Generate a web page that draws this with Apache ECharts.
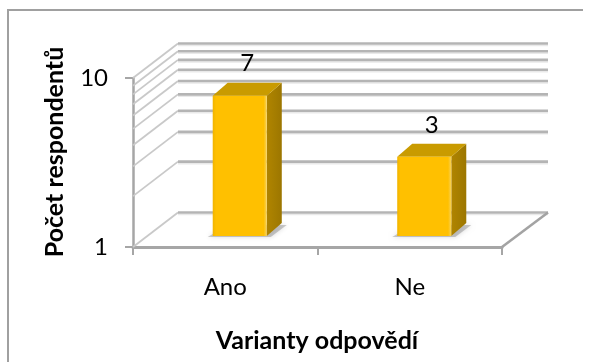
<!DOCTYPE html>
<html>
<head>
<meta charset="utf-8">
<script src="https://cdn.jsdelivr.net/npm/echarts@6/dist/echarts.min.js"></script>
<style>
  html, body { margin: 0; padding: 0; background: #fff; }
  #chart { width: 592px; height: 362px; }
</style>
</head>
<body>
<div id="chart"></div>
<script>
// Survey answers and respondent counts
const categories = ['Ano', 'Ne'];
const respondents = [7, 3];
// Log-scale wall lines (1..10) and the labelled ticks
const wallValues = [1, 2, 3, 4, 5, 6, 7, 8, 9, 10];
const tickLabels = ['1', '10'];

const FONT = 'Lato, "Liberation Sans", sans-serif';
const WALL_DEPTH = [45, -34.5];   // front plane -> back wall
const BAR_DEPTH = [15, -13];      // front face -> back face of a bar
const BAR_RATIO = 0.293;          // bar front width relative to band

const chart = echarts.init(document.getElementById('chart'), null, { renderer: 'canvas' });

// Back wall, side wall and floor lines, one item per log value
function wallItem(params, api) {
  const cs = params.coordSys;
  const v = api.value(1);
  const y = api.coord([0, v])[1];
  const dx = WALL_DEPTH[0], dy = WALL_DEPTH[1];
  const left = cs.x, right = cs.x + cs.width;
  const children = [
    { type: 'line', shape: { x1: left, y1: y, x2: left + dx, y2: y + dy },
      style: { stroke: '#c9c9c9', lineWidth: 1.8 } },
    { type: 'line', shape: { x1: left + dx, y1: y + dy + 2, x2: right + dx + 1, y2: y + dy + 2 },
      style: { stroke: '#e9e9e9', lineWidth: 1.5 } },
    { type: 'line', shape: { x1: left + dx, y1: y + dy, x2: right + dx + 1, y2: y + dy },
      style: { stroke: '#b4b4b4', lineWidth: 2.6 } }
  ];
  if (v === 1) {
    children.push({ type: 'line', shape: { x1: right, y1: y, x2: right + dx + 1, y2: y + dy },
      style: { stroke: '#a3a3a3', lineWidth: 2.6 } });
  }
  return { type: 'group', children: children };
}

// 3D column: shadow, front face, top face, side face and value label
function barItem(params, api) {
  const ci = api.value(0), v = api.value(1);
  const top = api.coord([ci, v]);
  const base = api.coord([ci, 1]);
  const w = api.size([1, 1])[0] * BAR_RATIO;
  const dx = BAR_DEPTH[0], dy = BAR_DEPTH[1];
  const xl = top[0] - w / 2, xr = top[0] + w / 2;
  const yt = top[1], yb = base[1];
  return {
    type: 'group',
    children: [
      { type: 'polygon',
        shape: { points: [[xl - 5, yb + 1], [xr + 4, yb + 1], [xr + dx + 5, yb + dy + 2], [xl + dx, yb + dy + 2]] },
        style: { fill: 'rgba(110,110,110,0.35)', shadowBlur: 5, shadowColor: 'rgba(0,0,0,0.4)' } },
      { type: 'polygon',
        shape: { points: [[xr, yt], [xr + dx, yt + dy], [xr + dx, yb + dy], [xr, yb]] },
        style: { fill: new echarts.graphic.LinearGradient(0, 0, 1, 0, [
          { offset: 0, color: '#b08400' }, { offset: 0.5, color: '#a67e00' }, { offset: 1, color: '#9c7600' }]) } },
      { type: 'polygon',
        shape: { points: [[xl, yt], [xr, yt], [xr + dx, yt + dy], [xl + dx, yt + dy]] },
        style: { fill: '#c99b00' } },
      { type: 'rect',
        shape: { x: xl, y: yt, width: w, height: yb - yt },
        style: { fill: new echarts.graphic.LinearGradient(0, 0, 1, 0, [
          { offset: 0, color: '#f0b400' }, { offset: 0.06, color: '#ffc000' },
          { offset: 0.94, color: '#ffc000' }, { offset: 1, color: '#f7d25a' }]) } },
      { type: 'text',
        style: { text: String(v), x: top[0] + dx / 2, y: yt + dy - 19,
          align: 'center', verticalAlign: 'middle', fill: '#000', font: '24px ' + FONT } }
    ]
  };
}

const axisGray = '#a6a6a6';

chart.setOption({
  animation: false,
  backgroundColor: '#fff',
  graphic: [
    { type: 'polyline', shape: { points: [[583, 10], [8, 10], [8, 370]] },
      style: { stroke: '#a0a0a0', lineWidth: 2, fill: null } },
    { type: 'text', x: 317, y: 341,
      style: { text: 'Varianty odpovědí', align: 'center', verticalAlign: 'middle',
        font: 'bold 25px ' + FONT, fill: '#000' } },
    { type: 'text', x: 55, y: 152, rotation: Math.PI / 2,
      style: { text: 'Počet respondentů', align: 'center', verticalAlign: 'middle',
        font: 'bold 25px ' + FONT, fill: '#000' } }
  ],
  grid: [
    { left: 133, top: 78, width: 369, height: 169 },
    { left: 147.5, top: 70, width: 369, height: 166 }
  ],
  xAxis: [
    { type: 'category', gridIndex: 0, data: categories, boundaryGap: true,
      axisLine: { lineStyle: { color: axisGray, width: 3 } },
      axisTick: { show: true, length: 8, lineStyle: { color: axisGray, width: 2 } },
      axisLabel: { margin: 28, color: '#000', fontFamily: FONT, fontSize: 24 },
      splitLine: { show: false } },
    { type: 'category', gridIndex: 1, data: categories, show: false }
  ],
  yAxis: [
    { type: 'log', gridIndex: 0, logBase: 10, min: 1, max: 10,
      axisLine: { show: true, lineStyle: { color: axisGray, width: 2.5 } },
      axisTick: { show: true, length: 8, lineStyle: { color: axisGray, width: 2 } },
      axisLabel: { margin: 25, color: '#000', fontFamily: FONT, fontSize: 24,
        formatter: function (val) { return tickLabels.indexOf(String(Math.round(val))) >= 0 ? String(Math.round(val)) : ''; } },
      splitLine: { show: false } },
    { type: 'log', gridIndex: 1, logBase: 10, min: 1, max: 10, show: false }
  ],
  series: [
    { type: 'custom', name: 'walls', xAxisIndex: 0, yAxisIndex: 0, silent: true, z: 1,
      renderItem: wallItem, data: wallValues.map(function (v) { return [0, v]; }) },
    { type: 'custom', name: 'Počet respondentů', xAxisIndex: 1, yAxisIndex: 1, z: 3,
      renderItem: barItem, data: respondents.map(function (v, i) { return [i, v]; }) }
  ]
});
</script>
</body>
</html>
